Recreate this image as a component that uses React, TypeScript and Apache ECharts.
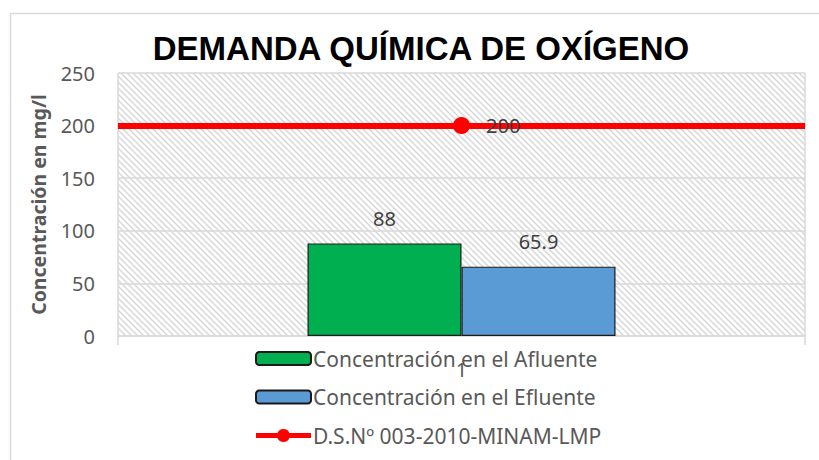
import React, { useEffect, useRef } from 'react';
import * as echarts from 'echarts';

const categories = ['1'];
const afluenteValues = [88];
const efluenteValues = [65.9];
const limiteValues = [200];
const limiteLevel = 200;
const yMin = 0;
const yMax = 250;
const yInterval = 50;

const titleText = 'DEMANDA QUÍMICA DE OXÍGENO';
const yAxisName = 'Concentración en mg/l';
const seriesNames = ['Concentración en el Afluente', 'Concentración en el Efluente', 'D.S.Nº 003-2010-MINAM-LMP'];

const FONT = '"Noto Sans", "Open Sans", sans-serif';
const LINE_MARKER_ICON =
  'path://M0 4 L21.5 4 A6.5 6.5 0 0 1 33.5 4 L55 4 L55 9 L33.5 9 A6.5 6.5 0 0 1 21.5 9 L0 9 Z';

function makeHatch(): HTMLCanvasElement {
  const c = document.createElement('canvas');
  const s = 6;
  c.width = s;
  c.height = s;
  const ctx = c.getContext('2d');
  if (ctx) {
    ctx.fillStyle = '#ffffff';
    ctx.fillRect(0, 0, s, s);
    ctx.strokeStyle = '#d6d6d6';
    ctx.lineWidth = 1.4;
    ctx.beginPath();
    ctx.moveTo(-1, -1);
    ctx.lineTo(s + 1, s + 1);
    ctx.moveTo(-1, s - 1);
    ctx.lineTo(1, s + 1);
    ctx.moveTo(s - 1, -1);
    ctx.lineTo(s + 1, 1);
    ctx.stroke();
  }
  return c;
}

export default function App() {
  const ref = useRef<HTMLDivElement>(null);
  useEffect(() => {
    if (!ref.current) return;
    const chart = echarts.init(ref.current, null, { renderer: 'svg' });
    const hatch = makeHatch();
    chart.setOption({
      animation: false,
      backgroundColor: '#ffffff',
      title: {
        text: titleText,
        left: 416,
        top: 27,
        textAlign: 'center',
        textStyle: {
          fontFamily: '"Liberation Sans Narrow", "Arial Narrow", "Liberation Sans", sans-serif',
          fontWeight: 'bold',
          fontSize: 33,
          color: '#000000',
        },
      },
      graphic: [
        {
          type: 'rect',
          left: 8,
          top: 11,
          shape: { width: 840, height: 470 },
          style: { fill: 'none', stroke: '#d9d9d9', lineWidth: 1.5 },
          silent: true,
          z: -10,
        },
      ],
      grid: {
        left: 118,
        right: 14,
        top: 73,
        bottom: 124,
        show: true,
        backgroundColor: { image: hatch, repeat: 'repeat', imageWidth: 6, imageHeight: 6 },
        borderWidth: 0,
      },
      legend: {
        orient: 'vertical',
        left: 250,
        top: 343,
        itemWidth: 55,
        itemHeight: 13,
        itemGap: 17.5,
        textStyle: { fontFamily: FONT, fontSize: 21, color: '#595959', padding: [0, 0, 0, -3] },
        data: [
          { name: seriesNames[0] },
          { name: seriesNames[1] },
          { name: seriesNames[2], icon: LINE_MARKER_ICON, itemStyle: { color: '#ff0000', borderWidth: 0 } },
        ],
      },
      xAxis: {
        type: 'category',
        data: categories,
        axisLine: { show: true, lineStyle: { color: '#d9d9d9', width: 1.5 } },
        axisTick: { show: true, length: 9, lineStyle: { color: '#d9d9d9', width: 1.5 } },
        splitLine: { show: true, lineStyle: { color: '#d9d9d9', width: 1.5 } },
        axisLabel: { fontFamily: FONT, fontSize: 20, color: '#595959', margin: 23 },
      },
      yAxis: {
        type: 'value',
        min: yMin,
        max: yMax,
        interval: yInterval,
        name: yAxisName,
        nameLocation: 'middle',
        nameGap: 70,
        nameTextStyle: { fontFamily: FONT, fontSize: 19.5, fontWeight: 'bold', color: '#595959' },
        axisLine: { show: false },
        axisTick: { show: false },
        splitLine: { show: true, lineStyle: { color: '#d9d9d9', width: 1.5 } },
        axisLabel: { fontFamily: FONT, fontSize: 20, color: '#595959', margin: 23 },
      },
      series: [
        {
          name: seriesNames[0],
          type: 'bar',
          data: afluenteValues,
          barWidth: 154,
          barGap: '0%',
          itemStyle: { color: '#00b050', borderColor: '#1a1a1a', borderWidth: 1.2 },
          label: { show: true, position: 'top', distance: 15, fontFamily: FONT, fontSize: 20, color: '#404040' },
        },
        {
          name: seriesNames[1],
          type: 'bar',
          data: efluenteValues,
          barWidth: 154,
          barGap: '0%',
          itemStyle: { color: '#5b9bd5', borderColor: '#1a1a1a', borderWidth: 1.2 },
          label: { show: true, position: 'top', distance: 15, fontFamily: FONT, fontSize: 20, color: '#404040' },
        },
        {
          name: seriesNames[2],
          type: 'line',
          data: limiteValues,
          symbol: 'circle',
          symbolSize: 17,
          itemStyle: { color: '#ff0000' },
          lineStyle: { color: '#ff0000', width: 5 },
          label: { show: true, position: 'right', distance: 16, fontFamily: FONT, fontSize: 20, color: '#404040' },
          z: 5,
          markLine: {
            silent: true,
            symbol: 'none',
            label: { show: false },
            lineStyle: { color: '#ff0000', width: 6, type: 'solid' },
            data: [{ yAxis: limiteLevel }],
          },
        },
      ],
    });
    return () => chart.dispose();
  }, []);
  return <div ref={ref} style={{ position: 'absolute', left: 0, top: 0, width: 819, height: 460 }} />;
}
